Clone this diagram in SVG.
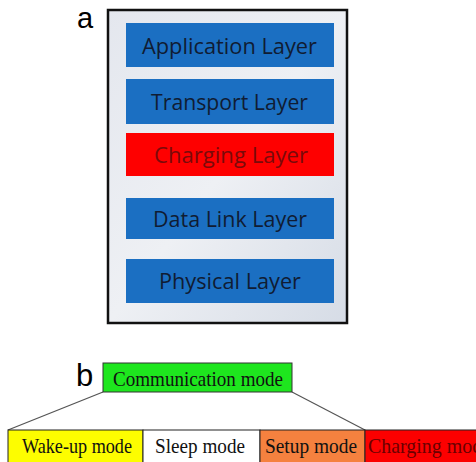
<svg xmlns="http://www.w3.org/2000/svg" width="476" height="462" viewBox="0 0 476 462">
<defs>
<linearGradient id="bg" x1="0" y1="0" x2="1" y2="1">
<stop offset="0" stop-color="#e4e7ee"/>
<stop offset="0.5" stop-color="#eef0f4"/>
<stop offset="1" stop-color="#d6dce6"/>
</linearGradient>
</defs>
<style>
.layer{fill:#1b6fc2}
.lt{font-family:"Open Sans","Noto Sans",sans-serif;font-size:22px;fill:#101c33;text-anchor:start}
.mode{stroke:#222;stroke-width:1}
.mt{font-family:"Liberation Serif",serif;font-size:22px;fill:#111}
.lbl{font-family:"Liberation Sans",sans-serif;fill:#000}
</style>
<rect width="476" height="462" fill="#fff"/>
<text class="lbl" x="77" y="28" font-size="29">a</text>
<rect x="108" y="10" width="239" height="313" fill="url(#bg)" stroke="#111" stroke-width="2.5"/>
<g id="application">
<rect class="layer" x="126" y="23" width="208" height="44"/>
<text class="lt" x="142" y="54" textLength="175" lengthAdjust="spacingAndGlyphs">Application Layer</text>
</g>
<g id="transport">
<rect class="layer" x="126" y="79" width="208" height="45"/>
<text class="lt" x="151" y="110" textLength="157" lengthAdjust="spacingAndGlyphs">Transport Layer</text>
</g>
<g id="charging-layer">
<rect x="126" y="133" width="208" height="43" fill="#fe0000"/>
<text class="lt" x="154" y="163" textLength="154" lengthAdjust="spacingAndGlyphs" style="fill:#7a0a0a">Charging Layer</text>
</g>
<g id="datalink">
<rect class="layer" x="126" y="198" width="208" height="41"/>
<text class="lt" x="153" y="227" textLength="154" lengthAdjust="spacingAndGlyphs">Data Link Layer</text>
</g>
<g id="physical">
<rect class="layer" x="126" y="259" width="208" height="44"/>
<text class="lt" x="159" y="289" textLength="142" lengthAdjust="spacingAndGlyphs">Physical Layer</text>
</g>
<text class="lbl" x="76" y="386" font-size="31">b</text>
<g id="connectors" stroke="#555" stroke-width="1.2" fill="none">
<line x1="103" y1="392" x2="8" y2="430"/>
<line x1="292" y1="392" x2="365" y2="430"/>
</g>
<g id="communication">
<rect x="103" y="363" width="189" height="29" fill="#1ee61e" stroke="#333" stroke-width="1"/>
<text class="mt" x="113" y="386" textLength="170" lengthAdjust="spacingAndGlyphs">Communication mode</text>
</g>
<g id="wakeup">
<rect class="mode" x="8" y="430" width="135" height="34" fill="#fdfd00"/>
<text class="mt" x="22" y="453" textLength="110" lengthAdjust="spacingAndGlyphs">Wake-up mode</text>
</g>
<g id="sleep">
<rect class="mode" x="143" y="430" width="117" height="34" fill="#fff"/>
<text class="mt" x="155" y="453" textLength="90" lengthAdjust="spacingAndGlyphs">Sleep mode</text>
</g>
<g id="setup">
<rect class="mode" x="260" y="430" width="105" height="34" fill="#f5813f"/>
<text class="mt" x="265" y="453" textLength="92" lengthAdjust="spacingAndGlyphs">Setup mode</text>
</g>
<g id="charging-mode">
<rect class="mode" x="365" y="430" width="120" height="34" fill="#fc0000"/>
<text class="mt" x="368" y="453" textLength="123" lengthAdjust="spacingAndGlyphs" style="fill:#6a0000">Charging mode</text>
</g>
</svg>
